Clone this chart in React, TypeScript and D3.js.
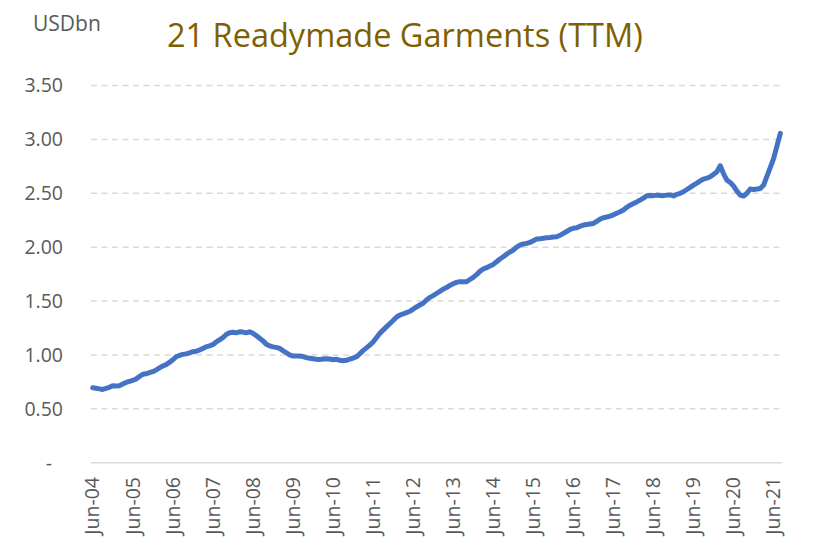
import React from 'react';
import * as d3 from 'd3';

// monthly TTM exports, USD bn, Jun-04 .. Aug-21
const values: number[] = [
  0.695, 0.69, 0.685, 0.68, 0.69, 0.70, 0.715, 0.712, 0.715, 0.73, 0.745, 0.755,
  0.765, 0.776, 0.80, 0.82, 0.825, 0.835, 0.845, 0.86, 0.88, 0.897, 0.91, 0.93,
  0.955, 0.983, 0.995, 1.005, 1.01, 1.02, 1.03, 1.035, 1.045, 1.06, 1.075, 1.085,
  1.095, 1.12, 1.14, 1.16, 1.19, 1.206, 1.21, 1.205, 1.215, 1.212, 1.205, 1.215,
  1.20, 1.18, 1.155, 1.13, 1.10, 1.085, 1.075, 1.07, 1.06, 1.04, 1.02, 1.0,
  0.99, 0.99, 0.99, 0.985, 0.975, 0.97, 0.965, 0.96, 0.958, 0.962, 0.965, 0.962,
  0.955, 0.96, 0.95, 0.946, 0.95, 0.96, 0.97, 0.983, 1.01, 1.04, 1.065, 1.09,
  1.12, 1.16, 1.20, 1.23, 1.26, 1.29, 1.32, 1.35, 1.37, 1.38, 1.392, 1.405,
  1.425, 1.445, 1.463, 1.48, 1.51, 1.534, 1.55, 1.57, 1.59, 1.61, 1.625, 1.645,
  1.66, 1.673, 1.68, 1.678, 1.679, 1.70, 1.72, 1.745, 1.775, 1.797, 1.81, 1.825,
  1.84, 1.865, 1.89, 1.911, 1.935, 1.955, 1.973, 2.0, 2.019, 2.03, 2.035, 2.044,
  2.06, 2.075, 2.078, 2.082, 2.087, 2.09, 2.094, 2.096, 2.11, 2.128, 2.145, 2.165,
  2.175, 2.18, 2.195, 2.205, 2.21, 2.215, 2.22, 2.24, 2.26, 2.273, 2.28, 2.288,
  2.30, 2.315, 2.328, 2.345, 2.37, 2.39, 2.405, 2.42, 2.437, 2.455, 2.477, 2.48,
  2.478, 2.483, 2.48, 2.478, 2.483, 2.485, 2.475, 2.49, 2.50, 2.514, 2.535, 2.555,
  2.576, 2.595, 2.615, 2.632, 2.64, 2.653, 2.675, 2.70, 2.755, 2.68, 2.622, 2.60,
  2.567, 2.52, 2.483, 2.474, 2.50, 2.539, 2.535, 2.539, 2.545, 2.576, 2.66, 2.74,
  2.824, 2.94, 3.056,
];

const xTickLabels = [
  'Jun-04', 'Jun-05', 'Jun-06', 'Jun-07', 'Jun-08', 'Jun-09', 'Jun-10', 'Jun-11', 'Jun-12',
  'Jun-13', 'Jun-14', 'Jun-15', 'Jun-16', 'Jun-17', 'Jun-18', 'Jun-19', 'Jun-20', 'Jun-21',
];
const yTicks = [0, 0.5, 1, 1.5, 2, 2.5, 3, 3.5];

const W = 813;
const H = 543;
const FONT = "'Open Sans', 'DejaVu Sans', sans-serif";
const GREY = '#595959';

const App = () => {
  const x = d3.scaleBand<number>()
    .domain(d3.range(values.length))
    .range([91, 782]);
  const cx = (i: number) => (x(i) as number) + x.bandwidth() / 2;
  const y = d3.scaleLinear().domain([0, 3.5]).range([462.7, 85.5]);

  const line = d3.line<number>()
    .x((_, i) => cx(i))
    .y(d => y(d));

  return (
    <svg width={W} height={H} style={{ position: 'absolute', left: 0, top: 0 }} fontFamily={FONT}>
      <rect width={W} height={H} fill="#fff" />
      {/* grid */}
      {yTicks.map(t => (
        t === 0 ? (
          <line key={t} x1={91} x2={782} y1={y(t)} y2={y(t)} stroke="#d9d9d9" strokeWidth={1.5} />
        ) : (
          <line key={t} x1={91} x2={782} y1={y(t)} y2={y(t)} stroke="#d9d9d9" strokeWidth={1.5} strokeDasharray="6,4.5" />
        )
      ))}
      {/* y labels */}
      {yTicks.map(t => (
        <text key={t} x={t === 0 ? 52 : 63} y={y(t)} dy="0.35em" textAnchor="end" fontSize={19.5} fill={GREY}>
          {t === 0 ? '-' : t.toFixed(2)}
        </text>
      ))}
      {/* x labels */}
      {xTickLabels.map((lab, k) => {
        const px = cx(k * 12);
        return (
          <text key={lab} transform={`translate(${px},477) rotate(-90)`} dy="0.35em" textAnchor="end" fontSize={19.5} fill={GREY}>
            {lab}
          </text>
        );
      })}
      <path d={line(values) || ''} fill="none" stroke="#4472c4" strokeWidth={5} strokeLinejoin="round" strokeLinecap="round" />
      <text x={33} y={31} fontSize={21} fill={GREY}>USDbn</text>
      <text x={167} y={47} fontSize={32.5} fill="#7f6000">21 Readymade Garments (TTM)</text>
    </svg>
  );
};

export default App;
